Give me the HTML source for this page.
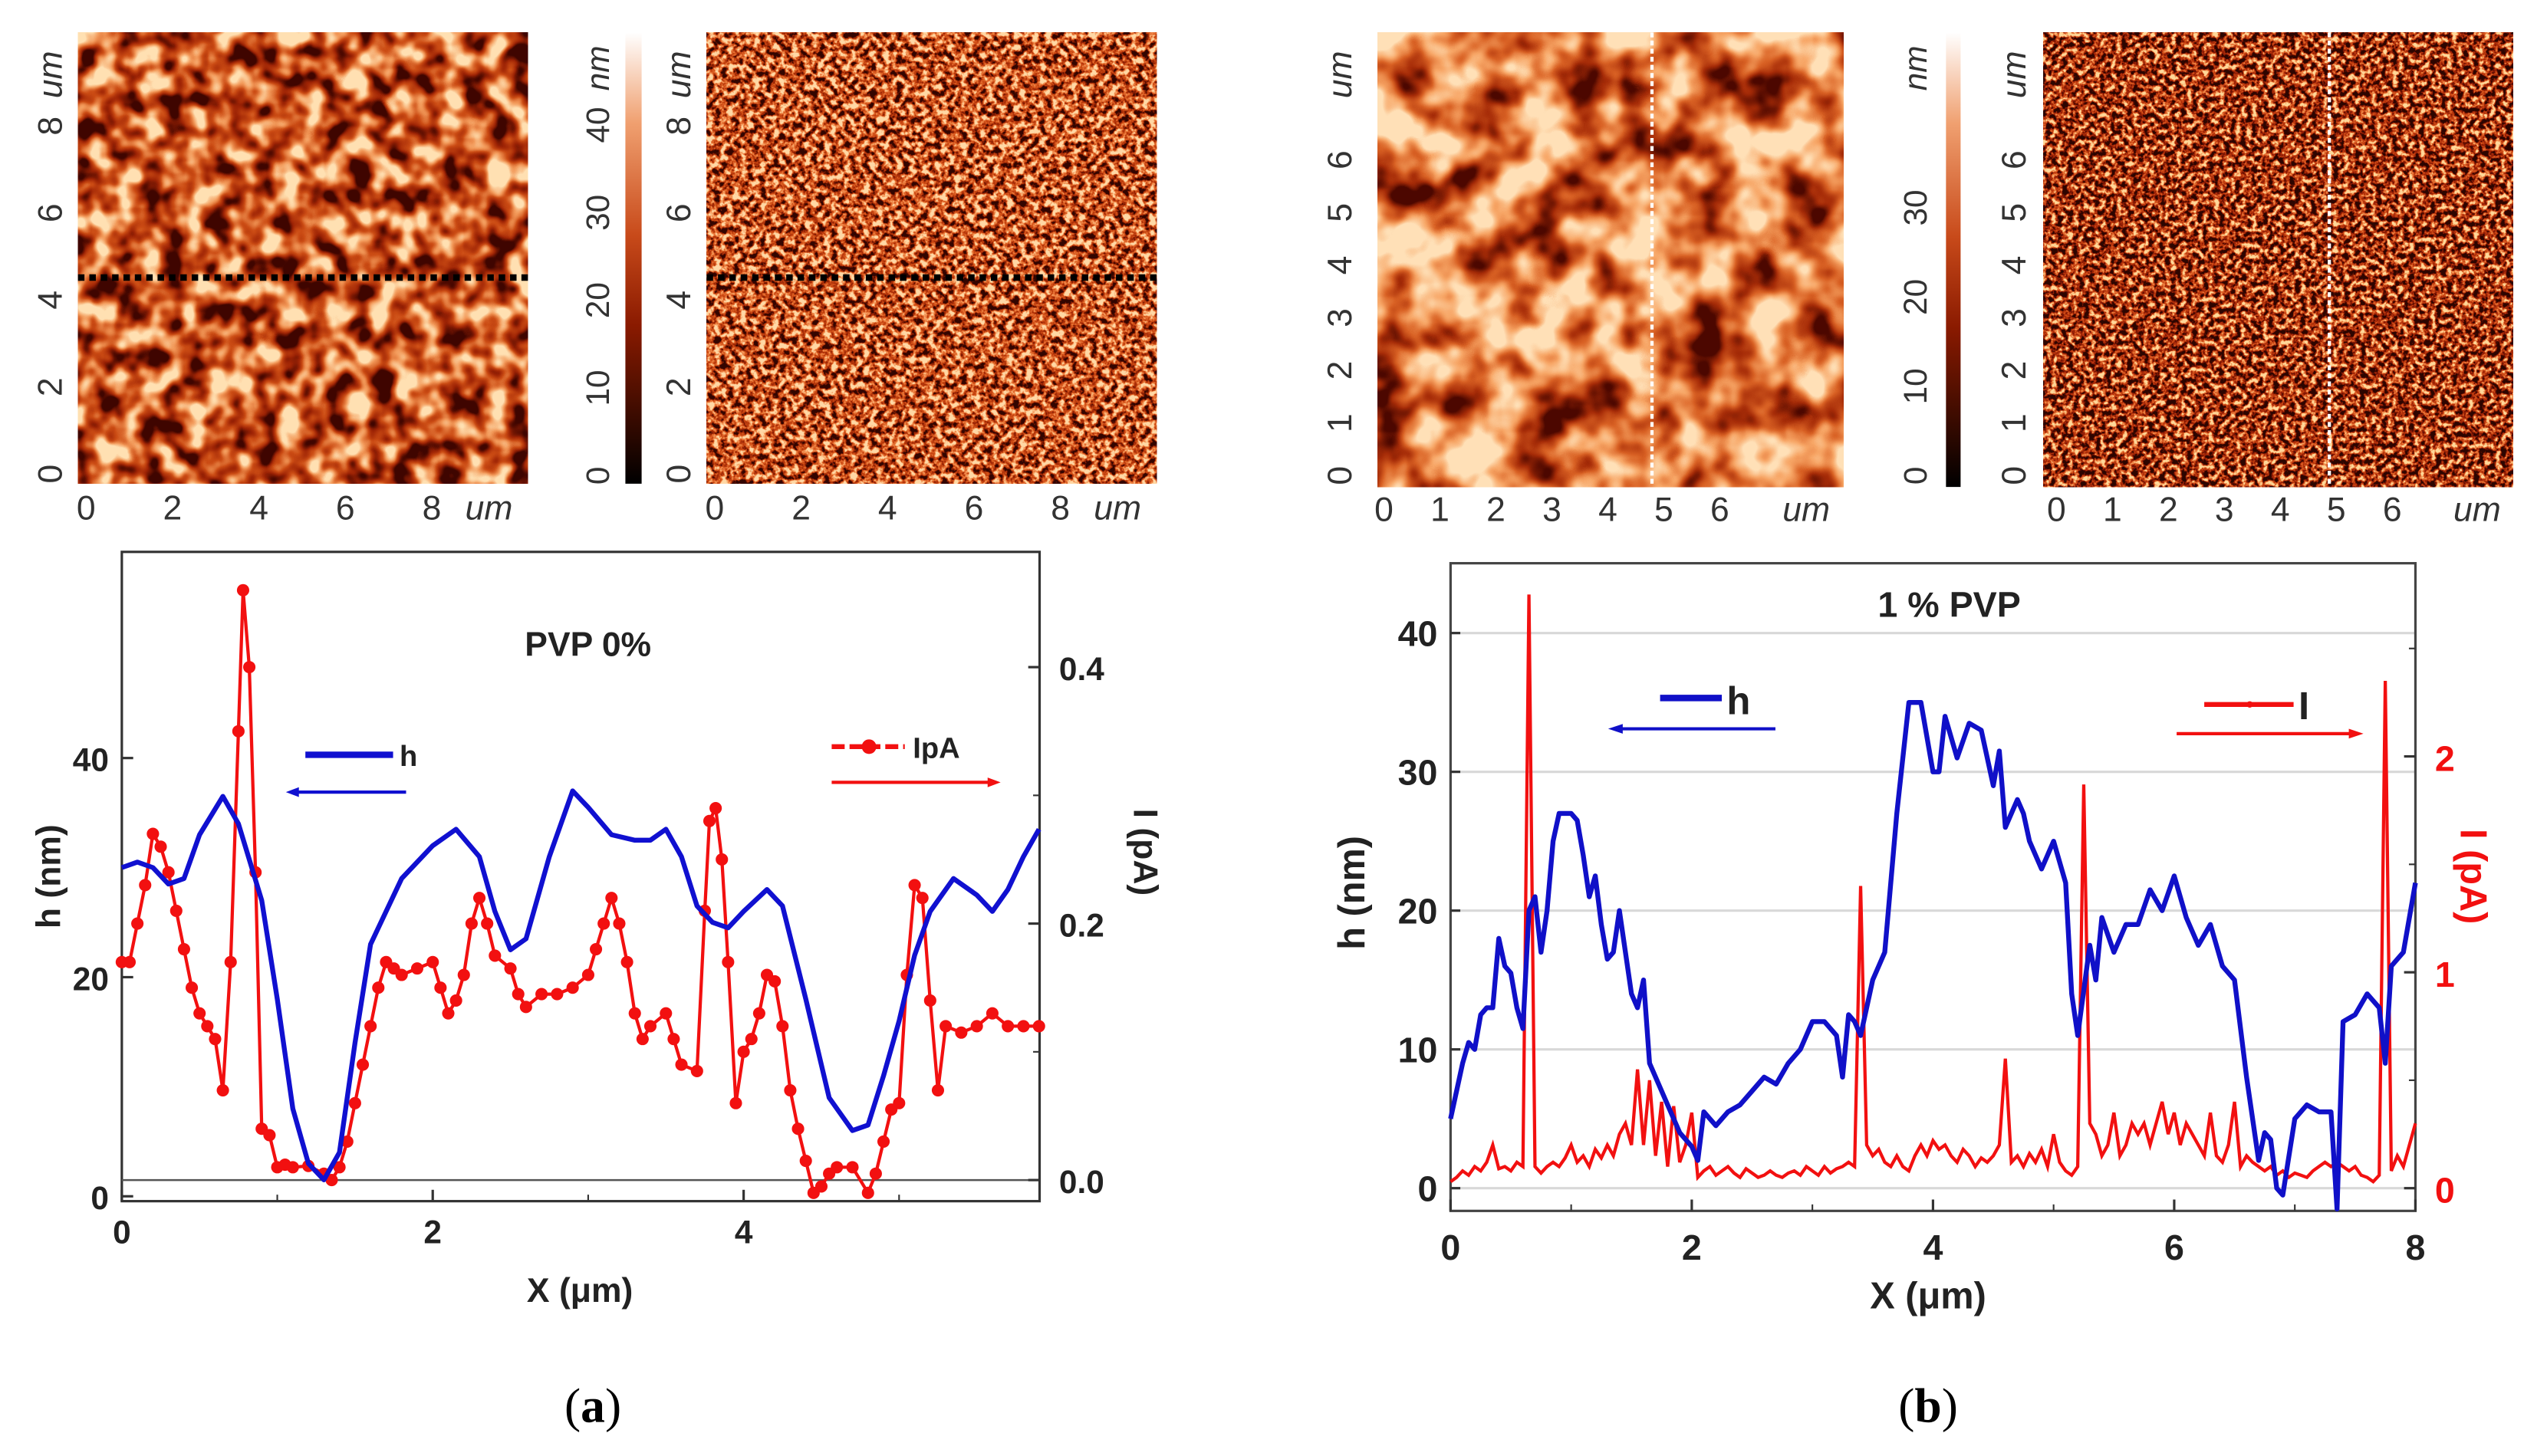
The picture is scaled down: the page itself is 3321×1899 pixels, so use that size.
<!DOCTYPE html>
<html><head><meta charset="utf-8"><style>
html,body{margin:0;padding:0;background:#fff;}
svg{display:block;}
text{font-family:"Liberation Sans",sans-serif;}
</style></head><body>
<svg id="fig" width="3321" height="1899" viewBox="0 0 1568 897" preserveAspectRatio="none" xmlns="http://www.w3.org/2000/svg">
<defs>
<filter id="afmA" x="0" y="0" width="100%" height="100%" filterUnits="objectBoundingBox" color-interpolation-filters="sRGB">
<feTurbulence type="fractalNoise" baseFrequency="0.07" numOctaves="2" seed="3"/>
<feColorMatrix type="matrix" values="2.6 0 0 0 -0.8  2.6 0 0 0 -0.8  2.6 0 0 0 -0.8  0 0 0 0 1"/>
<feComponentTransfer><feFuncR type="table" tableValues="0.25 0.62 0.8 0.95 1"/><feFuncG type="table" tableValues="0.02 0.14 0.3 0.6 0.88"/><feFuncB type="table" tableValues="0 0.02 0.08 0.35 0.7"/></feComponentTransfer>
</filter>
<filter id="afmB" x="0" y="0" width="100%" height="100%" filterUnits="objectBoundingBox" color-interpolation-filters="sRGB">
<feTurbulence type="fractalNoise" baseFrequency="0.25" numOctaves="3" seed="7"/>
<feColorMatrix type="matrix" values="3 0 0 0 -1.0  3 0 0 0 -1.0  3 0 0 0 -1.0  0 0 0 0 1"/>
<feComponentTransfer><feFuncR type="table" tableValues="0.2 0.6 0.82 0.95 1"/><feFuncG type="table" tableValues="0.02 0.14 0.3 0.55 0.85"/><feFuncB type="table" tableValues="0 0.02 0.08 0.3 0.65"/></feComponentTransfer>
</filter>
<filter id="afmC" x="0" y="0" width="100%" height="100%" filterUnits="objectBoundingBox" color-interpolation-filters="sRGB">
<feTurbulence type="fractalNoise" baseFrequency="0.03" numOctaves="3" seed="11"/>
<feColorMatrix type="matrix" values="2.6 0 0 0 -0.7  2.6 0 0 0 -0.7  2.6 0 0 0 -0.7  0 0 0 0 1"/>
<feComponentTransfer><feFuncR type="table" tableValues="0.3 0.65 0.85 0.97 1"/><feFuncG type="table" tableValues="0.03 0.17 0.38 0.65 0.88"/><feFuncB type="table" tableValues="0 0.03 0.14 0.4 0.72"/></feComponentTransfer>
</filter>
<filter id="afmD" x="0" y="0" width="100%" height="100%" filterUnits="objectBoundingBox" color-interpolation-filters="sRGB">
<feTurbulence type="fractalNoise" baseFrequency="0.3" numOctaves="3" seed="5"/>
<feColorMatrix type="matrix" values="3 0 0 0 -1.1  3 0 0 0 -1.1  3 0 0 0 -1.1  0 0 0 0 1"/>
<feComponentTransfer><feFuncR type="table" tableValues="0.18 0.55 0.78 0.93 1"/><feFuncG type="table" tableValues="0.02 0.1 0.25 0.5 0.85"/><feFuncB type="table" tableValues="0 0.02 0.06 0.25 0.6"/></feComponentTransfer>
</filter>
<linearGradient id="cbar" x1="0" y1="1" x2="0" y2="0">
<stop offset="0" stop-color="#000"/><stop offset="0.35" stop-color="#8a1a00"/><stop offset="0.55" stop-color="#c84a1a"/><stop offset="0.8" stop-color="#f0a070"/><stop offset="1" stop-color="#fff"/>
</linearGradient>
</defs>

<g font-size="20" fill="#333">
 <rect x="48" y="20" width="277" height="278" filter="url(#afmA)"/>
 <line x1="48" y1="171" x2="325" y2="171" stroke="#000" stroke-width="4" stroke-dasharray="4,3"/>
 <rect x="385" y="20" width="10" height="278" fill="url(#cbar)"/>
 <rect x="435" y="20" width="277" height="278" filter="url(#afmB)"/>
 <line x1="435" y1="171" x2="712" y2="171" stroke="#000" stroke-width="4" stroke-dasharray="4,3"/>
 <rect x="848" y="20" width="287" height="280" filter="url(#afmC)"/>
 <line x1="1017" y1="20" x2="1017" y2="300" stroke="#fff" stroke-width="2" stroke-dasharray="3,2"/>
 <rect x="1198" y="20" width="9" height="280" fill="url(#cbar)"/>
 <rect x="1258" y="20" width="289" height="280" filter="url(#afmD)"/>
 <line x1="1434" y1="20" x2="1434" y2="300" stroke="#fff" stroke-width="2" stroke-dasharray="3,2"/>
 <g id="imglabels"></g>
</g>

<g id="chartA"></g>
<g id="chartB"></g>

<text x="365" y="876" font-size="30" text-anchor="middle" fill="#000" style="font-family:'Liberation Serif',serif">(<tspan font-weight="bold">a</tspan>)</text>
<text x="1187" y="876" font-size="30" text-anchor="middle" fill="#000" style="font-family:'Liberation Serif',serif">(<tspan font-weight="bold">b</tspan>)</text>
</svg>
<script>
// ---- Chart A data ----
const hAx=[0,0.1,0.2,0.3,0.4,0.5,0.65,0.75,0.9,1.0,1.1,1.2,1.3,1.4,1.5,1.6,1.8,2.0,2.15,2.3,2.4,2.5,2.6,2.75,2.9,3.0,3.15,3.3,3.4,3.5,3.6,3.7,3.8,3.9,4.0,4.15,4.25,4.4,4.55,4.7,4.8,4.9,5.0,5.1,5.2,5.35,5.5,5.6,5.7,5.8,5.9];
const hAy=[30,30.5,30,28.5,29,33,36.5,34,27,18,8,3,1.5,4,14,23,29,32,33.5,31,26,22.5,23.5,31,37,35.5,33,32.5,32.5,33.5,31,26.5,25,24.5,26,28,26.5,18,9,6,6.5,11,16,22,26,29,27.5,26,28,31,33.5];
const iAx=[0,0.05,0.1,0.15,0.2,0.25,0.3,0.35,0.4,0.45,0.5,0.55,0.6,0.65,0.7,0.75,0.78,0.82,0.86,0.9,0.95,1.0,1.05,1.1,1.2,1.3,1.35,1.4,1.45,1.5,1.55,1.6,1.65,1.7,1.75,1.8,1.9,2.0,2.05,2.1,2.15,2.2,2.25,2.3,2.35,2.4,2.5,2.55,2.6,2.7,2.8,2.9,3.0,3.05,3.1,3.15,3.2,3.25,3.3,3.35,3.4,3.5,3.55,3.6,3.7,3.75,3.78,3.82,3.86,3.9,3.95,4.0,4.05,4.1,4.15,4.2,4.25,4.3,4.35,4.4,4.45,4.5,4.55,4.6,4.7,4.8,4.85,4.9,4.95,5.0,5.05,5.1,5.15,5.2,5.25,5.3,5.4,5.5,5.6,5.7,5.8,5.9];
const iAy=[0.17,0.17,0.2,0.23,0.27,0.26,0.24,0.21,0.18,0.15,0.13,0.12,0.11,0.07,0.17,0.35,0.46,0.40,0.24,0.04,0.035,0.01,0.012,0.01,0.011,0.005,0.0,0.01,0.03,0.06,0.09,0.12,0.15,0.17,0.165,0.16,0.165,0.17,0.15,0.13,0.14,0.16,0.2,0.22,0.2,0.175,0.165,0.145,0.135,0.145,0.145,0.15,0.16,0.18,0.2,0.22,0.2,0.17,0.13,0.11,0.12,0.13,0.11,0.09,0.085,0.21,0.28,0.29,0.25,0.17,0.06,0.1,0.11,0.13,0.16,0.155,0.12,0.07,0.04,0.015,-0.01,-0.005,0.005,0.01,0.01,-0.01,0.005,0.03,0.055,0.06,0.16,0.23,0.22,0.14,0.07,0.12,0.115,0.12,0.13,0.12,0.12,0.12];
const xTicksA=[0,2,4];
const hTicksA=[0,20,40];
const iTicksA=[0.0,0.2,0.4];
// ---- Chart B data ----
const hBx=[0,0.1,0.15,0.2,0.25,0.3,0.35,0.4,0.45,0.5,0.55,0.6,0.65,0.7,0.75,0.8,0.85,0.9,1.0,1.05,1.1,1.15,1.2,1.25,1.3,1.35,1.4,1.45,1.5,1.55,1.6,1.65,1.7,1.8,1.9,2.0,2.05,2.1,2.15,2.2,2.3,2.4,2.5,2.6,2.7,2.8,2.9,3.0,3.1,3.2,3.25,3.3,3.35,3.4,3.5,3.6,3.7,3.8,3.9,4.0,4.05,4.1,4.2,4.3,4.4,4.5,4.55,4.6,4.7,4.75,4.8,4.9,5.0,5.1,5.15,5.2,5.3,5.35,5.4,5.5,5.6,5.7,5.8,5.9,6.0,6.1,6.2,6.3,6.4,6.5,6.6,6.7,6.75,6.8,6.85,6.9,7.0,7.1,7.2,7.3,7.35,7.4,7.5,7.6,7.7,7.75,7.8,7.9,8.0];
const hBy=[5,9,10.5,10,12.5,13,13,18,16,15.5,13,11.5,20,21,17,20,25,27,27,26.5,24,21,22.5,19,16.5,17,20,17,14,13,15,9,8,6,4,3,2,5.5,5,4.5,5.5,6,7,8,7.5,9,10,12,12,11,8,12.5,12,11,15,17,27,35,35,30,30,34,31,33.5,33,29,31.5,26,28,27,25,23,25,22,14,11,17.5,15,19.5,17,19,19,21.5,20,22.5,19.5,17.5,19,16,15,8,2,4,3.5,0,-0.5,5,6,5.5,5.5,-1.5,12,12.5,14,13,9,16,17,22];
const iBy=[0.03,0.05,0.08,0.06,0.1,0.08,0.12,0.2,0.09,0.1,0.08,0.12,0.1,2.75,0.1,0.07,0.1,0.12,0.1,0.14,0.2,0.12,0.15,0.1,0.18,0.14,0.2,0.15,0.25,0.3,0.2,0.55,0.2,0.5,0.15,0.4,0.1,0.38,0.12,0.2,0.35,0.05,0.08,0.1,0.06,0.08,0.1,0.07,0.05,0.09,0.07,0.05,0.06,0.08,0.06,0.05,0.07,0.08,0.06,0.1,0.08,0.06,0.1,0.07,0.09,0.1,0.12,0.1,1.4,0.2,0.15,0.18,0.12,0.1,0.15,0.1,0.08,0.15,0.2,0.15,0.22,0.18,0.2,0.15,0.12,0.18,0.15,0.1,0.14,0.12,0.15,0.2,0.6,0.12,0.15,0.1,0.16,0.12,0.18,0.1,0.25,0.12,0.08,0.06,0.1,1.87,0.3,0.25,0.15,0.2,0.35,0.15,0.2,0.3,0.25,0.3,0.2,0.3,0.4,0.25,0.35,0.2,0.3,0.25,0.2,0.15,0.35,0.15,0.12,0.2,0.4,0.1,0.15,0.12,0.1,0.08,0.1,0.06,0.08,0.05,0.07,0.06,0.05,0.08,0.1,0.12,0.1,0.12,0.1,0.08,0.1,0.06,0.05,0.03,0.06,2.35,0.08,0.15,0.1,0.2,0.3];
const iBstep=0.05;
const xTicksB=[0,2,4,6,8];
const hTicksB=[0,10,20,30,40];
const iTicksB=[0,1,2];

const NS='http://www.w3.org/2000/svg';
function mk(parent,tag,attrs,txt){const e=document.createElementNS(NS,tag);for(const k in attrs)e.setAttribute(k,attrs[k]);if(txt!==undefined)e.textContent=txt;parent.appendChild(e);return e;}
function pathD(xs,ys,fx,fy){return xs.map((x,i)=>(i?'L':'M')+fx(x).toFixed(2)+','+fy(ys[i]).toFixed(2)).join('');}

(function(){
const g=document.getElementById('chartA');
const L=75,R=640,T=340,B=740;
const fx=x=>L+x*95.7, fh=h=>737-h*6.75, fi=v=>727-v*790;
let e;
e=mk(g,'rect',{x:L,y:T,width:R-L,height:B-T,fill:'none',stroke:'#333','stroke-width':1.5});

e=mk(g,'line',{x1:L,x2:R,y1:fi(0),y2:fi(0),stroke:'#555','stroke-width':1.2});

xTicksA.forEach(t=>{mk(g,'line',{x1:fx(t),x2:fx(t),y1:B,y2:B-7,stroke:'#333','stroke-width':1.5});
 e=mk(g,'text',{x:fx(t),y:B+26,'font-size':20,'font-weight':'bold','text-anchor':'middle',fill:'#222'},String(t));
 });
[1,3,5].forEach(t=>mk(g,'line',{x1:fx(t),x2:fx(t),y1:B,y2:B-4,stroke:'#333'}));
hTicksA.forEach(t=>{mk(g,'line',{x1:L,x2:L+7,y1:fh(t),y2:fh(t),stroke:'#333','stroke-width':1.5});
 e=mk(g,'text',{x:L-8,y:fh(t)+8,'font-size':20,'font-weight':'bold','text-anchor':'end',fill:'#222'},String(t));
 });
iTicksA.forEach(t=>{mk(g,'line',{x1:R,x2:R-7,y1:fi(t),y2:fi(t),stroke:'#333','stroke-width':1.5});
 e=mk(g,'text',{x:R+12,y:fi(t)+8,'font-size':20,'font-weight':'bold',fill:'#222'},t.toFixed(1));
 });
[0.1,0.3].forEach(t=>mk(g,'line',{x1:R,x2:R-4,y1:fi(t),y2:fi(t),stroke:'#333'}));
e=mk(g,'text',{x:357,y:802,'font-size':21,'font-weight':'bold','text-anchor':'middle',fill:'#222'},'X (\u03bcm)');

e=mk(g,'text',{transform:'translate(37,540) rotate(-90)','font-size':21,'font-weight':'bold','text-anchor':'middle',fill:'#222'},'h (nm)');

e=mk(g,'text',{transform:'translate(698,525) rotate(90)','font-size':21,'font-weight':'bold','text-anchor':'middle',fill:'#222'},'I (pA)');

e=mk(g,'text',{x:362,y:404,'font-size':21,'font-weight':'bold','text-anchor':'middle',fill:'#222'},'PVP 0%');

e=mk(g,'path',{d:pathD(iAx,iAy,fx,fi),fill:'none',stroke:'#f21010','stroke-width':2});

iAx.forEach((x,i)=>{const c=mk(g,'circle',{cx:fx(x),cy:fi(iAy[i]),r:3.8,fill:'#f21010'});
 });
e=mk(g,'path',{d:pathD(hAx,hAy,fx,fh),fill:'none',stroke:'#1010d0','stroke-width':3,'stroke-linejoin':'round'});

mk(g,'line',{x1:188,x2:242,y1:465,y2:465,stroke:'#1010d0','stroke-width':4});
e=mk(g,'text',{x:246,y:472,'font-size':18,'font-weight':'bold',fill:'#222'},'h');

mk(g,'line',{x1:250,x2:180,y1:488,y2:488,stroke:'#1010d0','stroke-width':2});
mk(g,'path',{d:'M176,488 l8,-3 v6 z',fill:'#1010d0'});
mk(g,'line',{x1:512,x2:557,y1:460,y2:460,stroke:'#f21010','stroke-width':3,'stroke-dasharray':'8,3'});
mk(g,'circle',{cx:535,cy:460,r:4.5,fill:'#f21010'});
e=mk(g,'text',{x:562,y:467,'font-size':18,'font-weight':'bold',fill:'#222'},'IpA');

mk(g,'line',{x1:512,x2:610,y1:482,y2:482,stroke:'#f21010','stroke-width':2});
mk(g,'path',{d:'M616,482 l-8,-3 v6 z',fill:'#f21010'});
})();

(function(){
const g=document.getElementById('chartB');
const L=893,R=1487,T=347,B=746;
const fx=x=>L+x*74.25, fh=h=>732-h*8.55, fi=v=>732-v*133;
let e;
hTicksB.forEach(t=>{e=mk(g,'line',{x1:L,x2:R,y1:fh(t),y2:fh(t),stroke:'#d8d8d8','stroke-width':1.5});
 });
e=mk(g,'rect',{x:L,y:T,width:R-L,height:B-T,fill:'none',stroke:'#444','stroke-width':1.5});

xTicksB.forEach(t=>{mk(g,'line',{x1:fx(t),x2:fx(t),y1:B,y2:B-7,stroke:'#333','stroke-width':1.5});
 e=mk(g,'text',{x:fx(t),y:B+30,'font-size':22,'font-weight':'bold','text-anchor':'middle',fill:'#222'},String(t));
 });
[1,3,5,7].forEach(t=>mk(g,'line',{x1:fx(t),x2:fx(t),y1:B,y2:B-4,stroke:'#333'}));
hTicksB.forEach(t=>{mk(g,'line',{x1:L,x2:L+6,y1:fh(t),y2:fh(t),stroke:'#333','stroke-width':1.5});
 e=mk(g,'text',{x:L-8,y:fh(t)+8,'font-size':22,'font-weight':'bold','text-anchor':'end',fill:'#222'},String(t));
 });
iTicksB.forEach(t=>{mk(g,'line',{x1:R,x2:R-7,y1:fi(t),y2:fi(t),stroke:'#333','stroke-width':1.5});
 e=mk(g,'text',{x:R+12,y:fi(t)+9,'font-size':22,'font-weight':'bold',fill:'#f21010'},String(t));
 });
[0.5,1.5,2.5].forEach(t=>mk(g,'line',{x1:R,x2:R-4,y1:fi(t),y2:fi(t),stroke:'#333'}));
e=mk(g,'text',{x:1187,y:806,'font-size':23,'font-weight':'bold','text-anchor':'middle',fill:'#222'},'X (\u03bcm)');

e=mk(g,'text',{transform:'translate(840,550) rotate(-90)','font-size':23,'font-weight':'bold','text-anchor':'middle',fill:'#222'},'h (nm)');

e=mk(g,'text',{transform:'translate(1515,540) rotate(90)','font-size':23,'font-weight':'bold','text-anchor':'middle',fill:'#f21010'},'I (pA)');

e=mk(g,'text',{x:1200,y:380,'font-size':22,'font-weight':'bold','text-anchor':'middle',fill:'#222'},'1 % PVP');

const iBx=iBy.map((v,i)=>i*iBstep);
e=mk(g,'path',{d:pathD(iBx,iBy,fx,fi),fill:'none',stroke:'#f21010','stroke-width':2});

e=mk(g,'path',{d:pathD(hBx,hBy,fx,fh),fill:'none',stroke:'#1010c8','stroke-width':3,'stroke-linejoin':'round'});

mk(g,'line',{x1:1022,x2:1060,y1:430,y2:430,stroke:'#1010c8','stroke-width':4});
e=mk(g,'text',{x:1063,y:440,'font-size':24,'font-weight':'bold',fill:'#222'},'h');

mk(g,'line',{x1:1093,x2:996,y1:449,y2:449,stroke:'#1010c8','stroke-width':2});
mk(g,'path',{d:'M990,449 l9,-3 v6 z',fill:'#1010c8'});
mk(g,'line',{x1:1357,x2:1412,y1:434,y2:434,stroke:'#f21010','stroke-width':3});
mk(g,'circle',{cx:1385,cy:434,r:2,fill:'#f21010'});
e=mk(g,'text',{x:1415,y:443,'font-size':24,'font-weight':'bold',fill:'#222'},'I');

mk(g,'line',{x1:1340,x2:1448,y1:452,y2:452,stroke:'#f21010','stroke-width':2});
mk(g,'path',{d:'M1455,452 l-9,-3 v6 z',fill:'#f21010'});
})();

(function(){
const g=document.getElementById('imglabels');
function imgAxes(x0,x1,y0,y1,n,max,span,labelX,unitX){
 let e;
 for(let k=0;k<=n;k++){
  const v=k*max/n;
  const xx=x0+(x1-x0)*v/span;
  const yy=y1-(y1-y0)*v/span;
  e=mk(g,'text',{x:xx,y:y1+28,'font-size':21,'text-anchor':'middle',fill:'#333'},String(v));
  
  e=mk(g,'text',{transform:`translate(${labelX},${yy}) rotate(-90)`,'font-size':21,'text-anchor':'middle',fill:'#333'},String(v));
  
 }
 e=mk(g,'text',{x:unitX,y:y1+28,'font-size':21,'font-style':'italic','text-anchor':'middle',fill:'#333'},'um');
 
 e=mk(g,'text',{transform:`translate(${labelX},${y0+22}) rotate(-90)`,'font-size':21,'font-style':'italic','text-anchor':'middle',fill:'#333'},'um');
 
}
imgAxes(53,319,24,292,4,8,10,38,301);
imgAxes(440,706,24,292,4,8,10,425,688);
imgAxes(852,1138,24,293,6,6,8.3,832,1112);
imgAxes(1266,1552,24,293,6,6,8.3,1247,1525);
let e;
[0,10,20,30,40].forEach((v,i)=>{e=mk(g,'text',{transform:`translate(375,${293-i*54}) rotate(-90)`,'font-size':20,'text-anchor':'middle',fill:'#333'},String(v));
 });
e=mk(g,'text',{transform:'translate(375,42) rotate(-90)','font-size':20,'font-style':'italic','text-anchor':'middle',fill:'#333'},'nm');

[0,10,20,30].forEach((v,i)=>{e=mk(g,'text',{transform:`translate(1186,${293-i*55}) rotate(-90)`,'font-size':20,'text-anchor':'middle',fill:'#333'},String(v));
 });
e=mk(g,'text',{transform:'translate(1186,42) rotate(-90)','font-size':20,'font-style':'italic','text-anchor':'middle',fill:'#333'},'nm');

})();
</script>
</body></html>
